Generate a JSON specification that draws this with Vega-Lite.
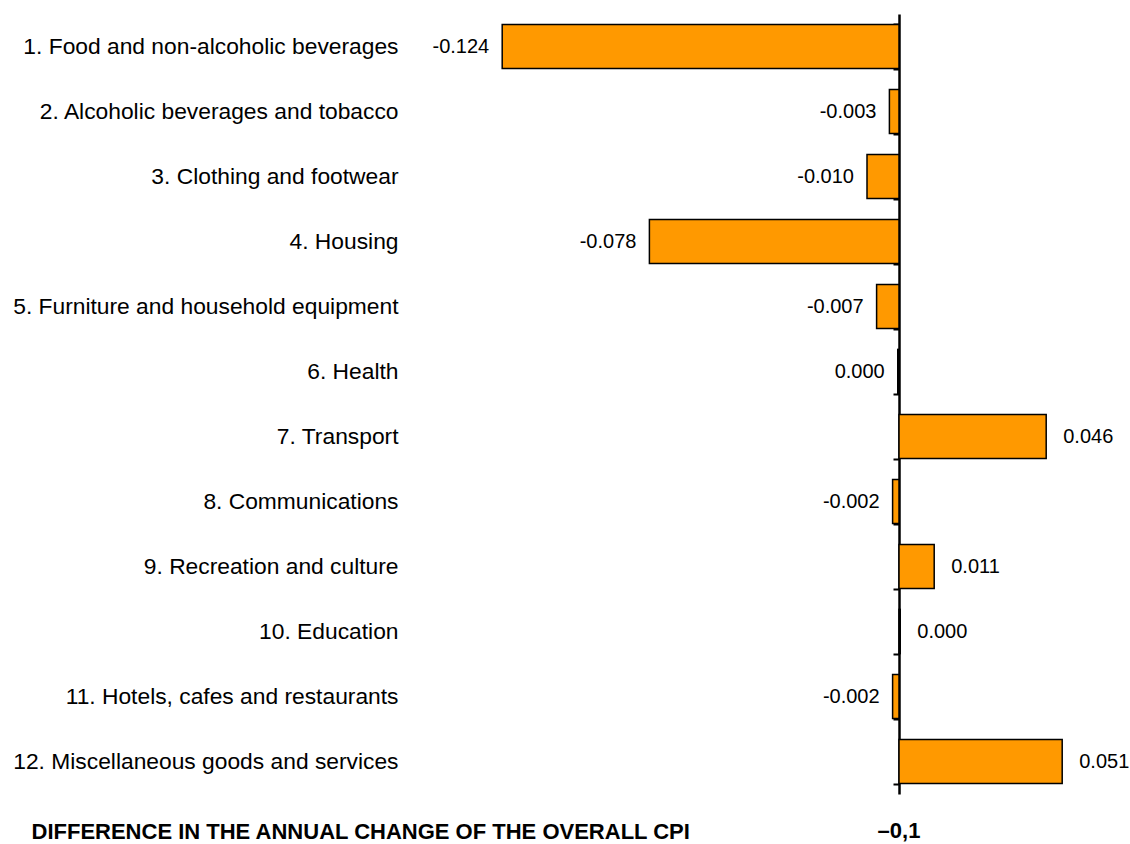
{
  "$schema": "https://vega.github.io/schema/vega-lite/v6.json",
  "background": "white",
  "padding": {"left": 12, "top": 3, "right": 0, "bottom": 0},
  "spacing": 26,
  "config": {
    "view": {"stroke": null},
    "font": "Liberation Sans",
    "locale": {"number": {"decimal": ".", "thousands": ",", "grouping": [3], "currency": ["", ""], "minus": "-"}}
  },
  "vconcat": [
    {
      "width": 704,
      "height": 780,
      "data": {
        "values": [
          {"category": "1. Food and non-alcoholic beverages", "value": -0.124},
          {"category": "2. Alcoholic beverages and tobacco", "value": -0.003},
          {"category": "3. Clothing and footwear", "value": -0.010},
          {"category": "4. Housing", "value": -0.078},
          {"category": "5. Furniture and household equipment", "value": -0.007},
          {"category": "6. Health", "value": -0.0004},
          {"category": "7. Transport", "value": 0.046},
          {"category": "8. Communications", "value": -0.002},
          {"category": "9. Recreation and culture", "value": 0.011},
          {"category": "10. Education", "value": 0.0004},
          {"category": "11. Hotels, cafes and restaurants", "value": -0.002},
          {"category": "12. Miscellaneous goods and services", "value": 0.051}
        ]
      },
      "encoding": {
        "y": {
          "field": "category",
          "type": "nominal",
          "sort": null,
          "scale": {"paddingInner": 0.32, "paddingOuter": 0.16},
          "axis": {
            "orient": "left",
            "offset": -480,
            "title": null,
            "grid": false,
            "domain": true,
            "domainColor": "#000000",
            "domainWidth": 2.5,
            "ticks": true,
            "tickBand": "extent",
            "tickSize": 6,
            "tickWidth": 2,
            "tickColor": "#000000",
            "labelPadding": 495,
            "labelFontSize": 22.8,
            "labelColor": "#000000",
            "labelLimit": 0
          }
        },
        "x": {
          "field": "value",
          "type": "quantitative",
          "scale": {"domain": [-0.15, 0.07], "nice": false, "zero": false},
          "axis": null
        }
      },
      "layer": [
        {
          "mark": {"type": "bar", "fill": "#FF9900", "stroke": "#000000", "strokeWidth": 1.5},
          "encoding": {"x2": {"datum": 0}}
        },
        {
          "mark": {
            "type": "text",
            "fontSize": 20,
            "color": "#000000",
            "baseline": "middle",
            "align": {"expr": "datum.value < 0 ? 'right' : 'left'"},
            "dx": {"expr": "datum.value < 0 ? -13 : 17"}
          },
          "encoding": {"text": {"field": "value", "type": "quantitative", "format": ".3f"}}
        }
      ]
    },
    {
      "width": 704,
      "height": 20,
      "data": {
        "values": [
          {"summary": "DIFFERENCE IN THE ANNUAL CHANGE OF THE OVERALL CPI", "total": -0.1, "shown": "–0,1"}
        ]
      },
      "mark": {"type": "text", "fontSize": 22, "fontWeight": "bold", "color": "#000000", "baseline": "middle"},
      "encoding": {
        "y": {
          "field": "summary",
          "type": "nominal",
          "axis": {
            "orient": "left",
            "title": null,
            "domain": false,
            "ticks": false,
            "grid": false,
            "labelAlign": "left",
            "labelPadding": 388,
            "labelFontSize": 22,
            "labelFontWeight": "bold",
            "labelColor": "#000000",
            "labelLimit": 0
          }
        },
        "x": {
          "datum": 0,
          "type": "quantitative",
          "scale": {"domain": [-0.15, 0.07], "nice": false, "zero": false},
          "axis": null
        },
        "text": {"field": "shown"}
      }
    }
  ]
}
